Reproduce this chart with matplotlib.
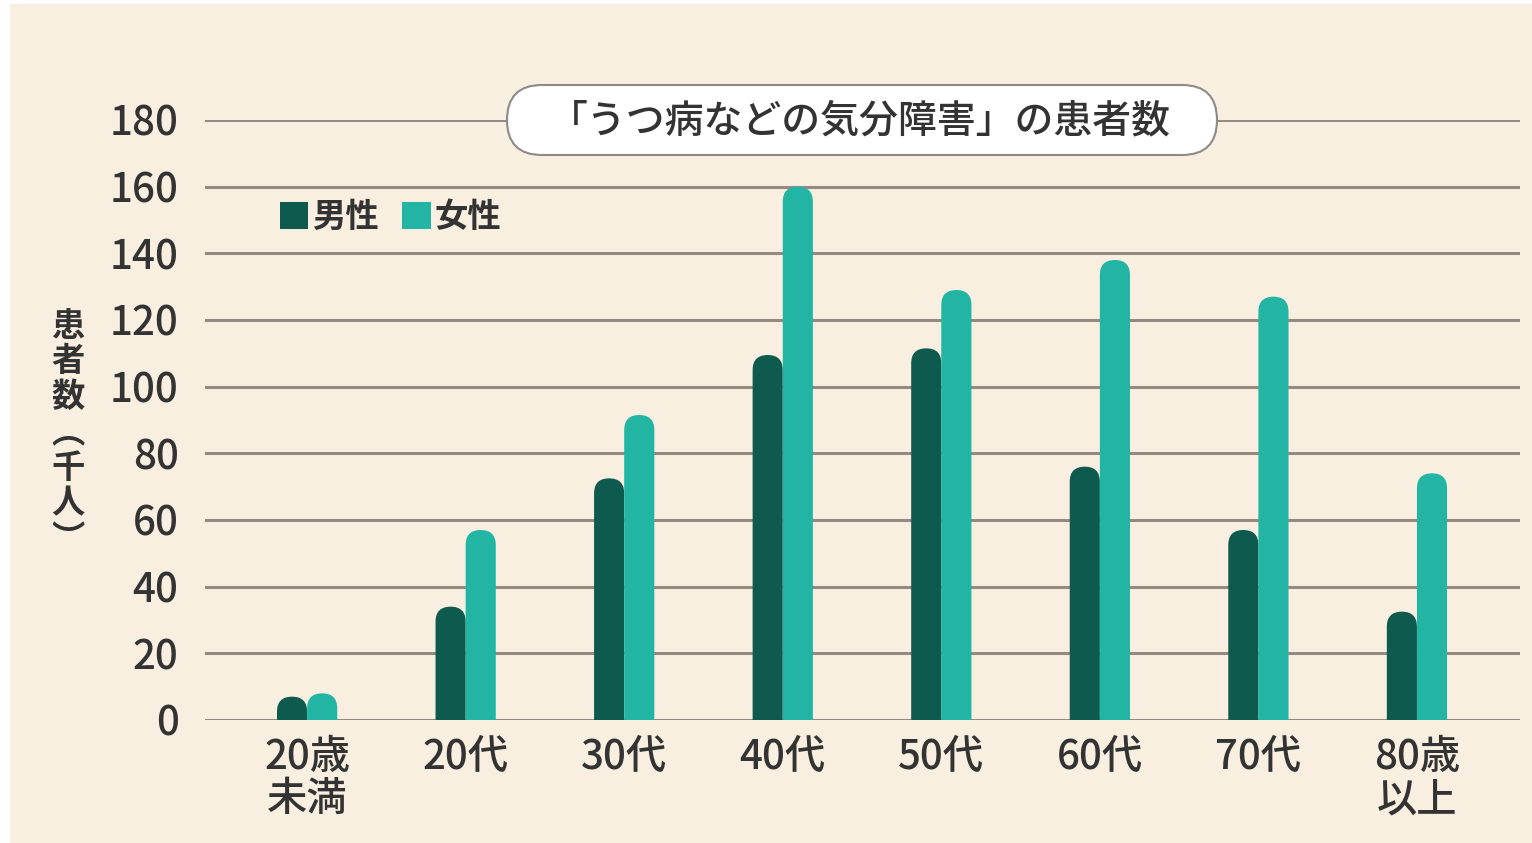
import matplotlib.pyplot as plt
from matplotlib.patches import FancyBboxPatch, Rectangle

plt.rcParams['font.family'] = ['Noto Sans CJK JP', 'DejaVu Sans']

# データ（千人）
categories = ['20歳\n未満', '20代', '30代', '40代', '50代', '60代', '70代', '80歳\n以上']
male = [7, 34, 72.5, 109.5, 111.5, 76, 57, 32.5]
female = [8, 57, 91.5, 160, 129, 138, 127, 74]
yticks = [0, 20, 40, 60, 80, 100, 120, 140, 160, 180]

bg = '#F9EFE0'
c_male = '#0F5A4E'
c_female = '#22B5A4'
grid_c = '#958A82'
txt_c = '#333333'

W, H = 1532, 843
fig = plt.figure(figsize=(W / 100, H / 100), dpi=100, facecolor='white')
fig.patches.append(Rectangle((10 / W, 0), 1 - 10 / W, 1 - 4 / H,
                             transform=fig.transFigure, color=bg, zorder=-5))

ax_l, ax_r, ax_b, ax_t = 205, 1520, 720, 120
ax = fig.add_axes([ax_l / W, 1 - ax_b / H, (ax_r - ax_l) / W, (ax_b - ax_t) / H])
ax.set_facecolor('none')
ax.set_ylim(0, 180)
ax.set_xlim(-0.644, 7.65)

for s in ax.spines.values():
    s.set_visible(False)
ax.set_yticks(yticks)
ax.tick_params(axis='y', length=0, pad=19, labelsize=29, labelcolor=txt_c)
ax.tick_params(axis='x', length=0, pad=12, labelsize=29, labelcolor=txt_c)
for y in yticks:
    ax.axhline(y, color=grid_c, lw=2.2, zorder=1)

x = list(range(len(categories)))
bw = 0.19
ax.set_xticks(x)
ax.set_xticklabels(categories, linespacing=1.05, va='top')
for lab in ax.get_xticklabels() + ax.get_yticklabels():
    lab.set_fontweight('medium')

# 角丸バー
px_x = (ax_r - ax_l) / (7.65 + 0.644)
px_y = (ax_b - ax_t) / 180.0
aspect = px_x / px_y
r = bw / 2
for vals, off, col in [(male, -bw / 2, c_male), (female, bw / 2, c_female)]:
    for xi, v in zip(x, vals):
        p = FancyBboxPatch((xi + off - bw / 2, -20), bw, v + 20,
                           boxstyle=f'round,pad=0,rounding_size={r}',
                           mutation_aspect=aspect, fc=col, ec='none', zorder=3,
                           clip_on=True)
        ax.add_patch(p)

# 凡例
ax.bar([0], [0], color=c_male, label='男性')
ax.bar([0], [0], color=c_female, label='女性')
leg = ax.legend(loc='upper left', bbox_to_anchor=(0.057, 0.865), ncol=2, frameon=False,
                borderaxespad=0, borderpad=0,
                handlelength=0.85, handleheight=0.85, handletextpad=0.12,
                columnspacing=0.7, prop={'weight': 'bold', 'size': 24})
for t in leg.get_texts():
    t.set_color(txt_c)

# タイトル
box = FancyBboxPatch((507 / W, 1 - 155 / H), 710 / W, 70 / H,
                     boxstyle=f'round,pad=0,rounding_size={35 / W}',
                     mutation_aspect=W / H, transform=fig.transFigure,
                     fc='white', ec='#8E8A86', lw=1.5, zorder=4)
fig.patches.append(box)
fig.text(860 / W, 1 - 121 / H, '「うつ病などの気分障害」の患者数', ha='center', va='center',
         fontsize=28, fontweight='medium', color=txt_c, zorder=5)

# 縦書きの軸ラベル
fig.text(68 / W, 1 - 433 / H, '\n'.join(['患', '者', '数', '︵', '千', '人', '︶']),
         ha='center', va='center', fontsize=24, fontweight='bold', color=txt_c,
         linespacing=1.1)

fig.savefig('out.png', dpi=100, facecolor='white')
